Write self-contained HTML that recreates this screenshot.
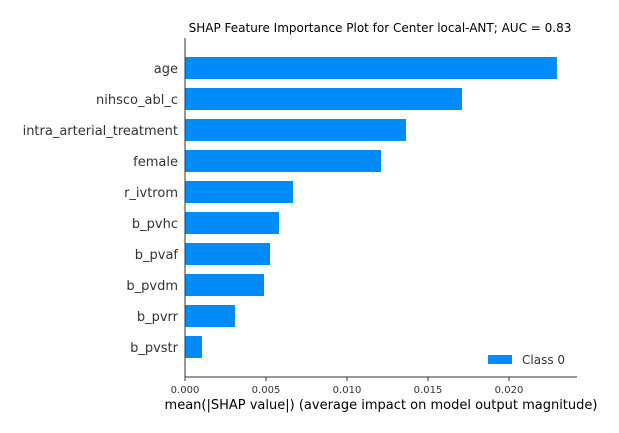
<!DOCTYPE html>
<html><head><meta charset="utf-8"><style>
body{margin:0;background:#fff;}
svg{display:block;font-family:"DejaVu Sans","Liberation Sans",sans-serif;}
</style></head><body>
<svg id="chart" width="619" height="433">
<text x="380" y="32" font-size="12" text-anchor="middle" fill="#000">SHAP Feature Importance Plot for Center local-ANT; AUC = 0.83</text>
<g id="bars"></g>
<g id="axis"></g>
<line x1="185" y1="38" x2="185" y2="377" stroke="#333" stroke-width="1"/>
<line x1="185" y1="377" x2="577" y2="377" stroke="#333" stroke-width="1"/>
<text x="381" y="409" font-size="13" text-anchor="middle" fill="#000">mean(|SHAP value|) (average impact on model output magnitude)</text>
<g>
<rect x="488" y="355" width="24" height="9" fill="#008bfb"/>
<text x="522" y="364" font-size="12" fill="#333">Class 0</text>
</g>
</svg>
<script>
const features=["age","nihsco_abl_c","intra_arterial_treatment","female","r_ivtrom","b_pvhc","b_pvaf","b_pvdm","b_pvrr","b_pvstr"];
const values=[0.02296,0.0171,0.01364,0.0121,0.00667,0.0058,0.00525,0.00488,0.00309,0.00105];
const ticks=[0,0.005,0.01,0.015,0.02];
const tickLabels=["0.000","0.005","0.010","0.015","0.020"];
const NS="http://www.w3.org/2000/svg";
function xs(v){return 185+v*16200;}
function ys(i){return 68+i*31;}
const bars=document.getElementById('bars');
features.forEach((f,i)=>{
  const r=document.createElementNS(NS,'rect');
  r.setAttribute('x',xs(0));r.setAttribute('y',ys(i)-11);
  r.setAttribute('width',xs(values[i])-xs(0));r.setAttribute('height',22);
  r.setAttribute('fill','#008bfb');
  
  
  bars.appendChild(r);
  const t=document.createElementNS(NS,'text');
  t.setAttribute('x',178);t.setAttribute('y',ys(i)+5);
  t.setAttribute('text-anchor','end');t.setAttribute('font-size','13');t.setAttribute('fill','#333');
  t.textContent=f;
  
  
  bars.appendChild(t);
});
const ax=document.getElementById('axis');
ticks.forEach((v,i)=>{
  const l=document.createElementNS(NS,'line');
  l.setAttribute('x1',xs(v));l.setAttribute('x2',xs(v));l.setAttribute('y1',377);l.setAttribute('y2',381);
  l.setAttribute('stroke','#333');
  
  
  ax.appendChild(l);
  const t=document.createElementNS(NS,'text');
  t.setAttribute('x',xs(v));t.setAttribute('y',393);t.setAttribute('text-anchor','middle');
  t.setAttribute('font-size','10');t.setAttribute('fill','#333');
  t.textContent=tickLabels[i];
  
  
  ax.appendChild(t);
});
</script>
</body></html>
